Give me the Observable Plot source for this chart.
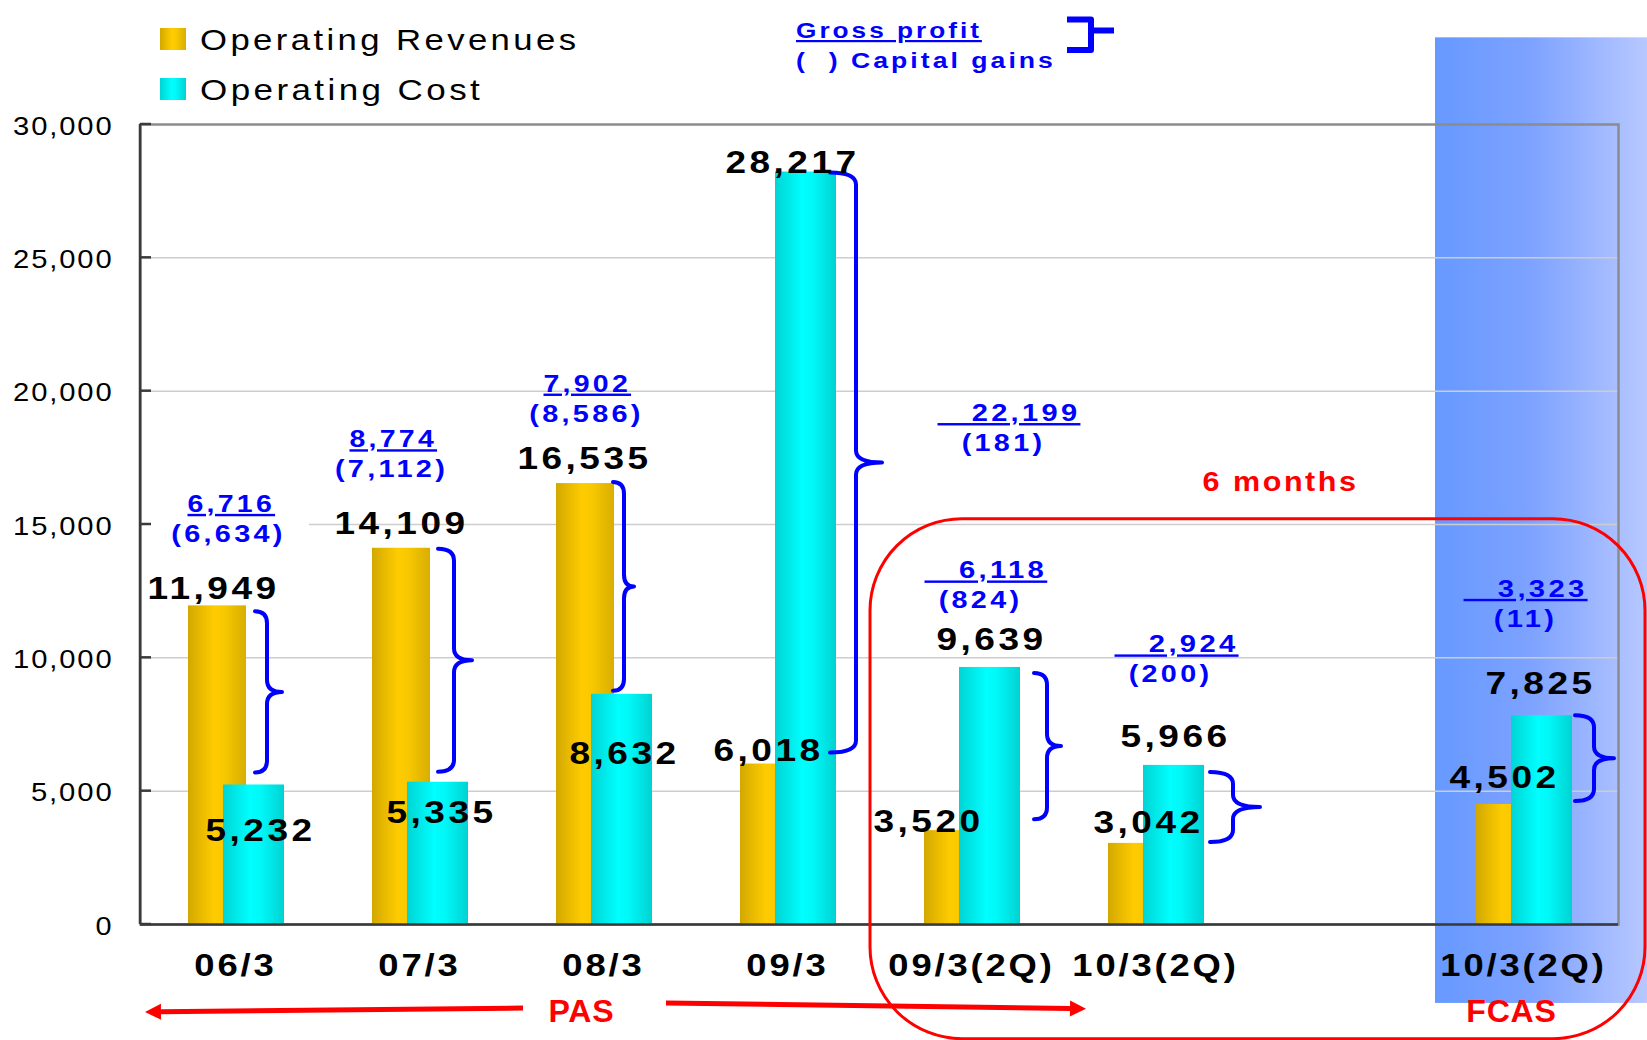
<!DOCTYPE html>
<html>
<head>
<meta charset="utf-8">
<script src="https://cdn.jsdelivr.net/npm/d3@7"></script>
<script src="https://cdn.jsdelivr.net/npm/@observablehq/plot@0.6"></script>
<style>
html, body { margin: 0; padding: 0; background: #fff; }
#chart svg { display: block; }
g[aria-description="gross profit"] text { text-decoration: underline; }
</style>
</head>
<body>
<div id="chart"></div>
<script>
// ---------- data ----------
const categories   = ["06/3", "07/3", "08/3", "09/3", "09/3(2Q)", "10/3(2Q)", "gap", "10/3(2Q)FCAS"];
const tickLabels   = ["06/3", "07/3", "08/3", "09/3", "09/3(2Q)", "10/3(2Q)", "", "10/3(2Q)"];
const revenues     = [11949, 14109, 16535, 6018, 3520, 3042, null, 4502];
const costs        = [5232, 5335, 8632, 28217, 9639, 5966, null, 7825];
const grossProfit  = [6716, 8774, 7902, 22199, 6118, 2924, null, 3323];
const capitalGains = [6634, 7112, 8586, 181, 824, 200, null, 11];
const yTicks       = [0, 5000, 10000, 15000, 20000, 25000, 30000];
const seriesNames  = ["Operating Revenues", "Operating Cost"];
const keyLabels    = ["Gross profit", "(\u00a0\u00a0) Capital gains"];
const noteLabels   = ["6 months", "PAS", "FCAS"];

// ---------- layout (pixel offsets of annotations) ----------
const revLabelShift  = [[-22,-7],[-18,-14],[-19,-15],[-19,-3],[-43,1],[-7,-10],null,[-19,-16]];
const costLabelShift = [[25,56],[22,41],[21,70],[5,1],[20,-17],[20,-18],null,[17,-22]];
const gpShift        = [[-48,-94],[-70,-101],[-60,-92],[150,249],[-47,-89],[-41,-113],null,[-60,-119]];
const gpLead         = [0,0,0,3,3,3,null,3];
const cgShiftX       = [-7,-28,-17,216,9,15,null,2];
const braceShape     = [[20,32,47,6,-12],[19,35,53,1,-10],[10,21,31,-1,-3],[43,69,95,1,-11],[63,76,90,6,-11],[55,78,105,7,-1],null,[52,71,91,0,-3]];

const fmt = d3.format(",");
const rows = categories.map((cat, i) => ({cat, i, rev: revenues[i], cost: costs[i], gp: grossProfit[i], cg: capitalGains[i]}))
  .filter(d => d.rev != null);

const FONT = "'Liberation Sans', Arial, Helvetica, sans-serif";
const BLUE = "#0000FF", RED = "#FF0000";

function decor(draw) {
  return (index, scales, values, dims) => {
    const X = scales.x, Y = scales.y;
    const bw = (X && typeof X.bandwidth === "function") ? X.bandwidth()
      : (dims.width - dims.marginLeft - dims.marginRight) / categories.length;
    const G = {dims, bw, Y, band: c => X(c), cx: c => X(c) + bw / 2};
    const g = d3.create("svg:g");
    draw(g, G);
    return g.node();
  };
}

function bracePath(x0, xs, xt, y1, y2, r) {
  const ym = (y1 + y2) / 2;
  r = Math.min(r, (y2 - y1) / 4);
  return `M${x0},${y1} Q${xs},${y1} ${xs},${y1 + r} L${xs},${ym - r} Q${xs},${ym} ${xt},${ym}` +
         ` Q${xs},${ym} ${xs},${ym + r} L${xs},${y2 - r} Q${xs},${y2} ${x0},${y2}`;
}

function arrow(g, xa, ya, xb, yb) {
  const ang = Math.atan2(yb - ya, xb - xa), L = 16, Wd = 8;
  const bx = xb - L * Math.cos(ang), by = yb - L * Math.sin(ang);
  g.append("line").attr("x1", xa).attr("y1", ya).attr("x2", bx).attr("y2", by)
    .attr("stroke", RED).attr("stroke-width", 5);
  const px = -Math.sin(ang) * Wd, py = Math.cos(ang) * Wd;
  g.append("path").attr("d", `M${xb},${yb} L${bx + px},${by + py} L${bx - px},${by - py} Z`).attr("fill", RED);
}

const defsMark = decor((g) => {
  const defs = g.append("defs");
  const lg = (id, stops) => {
    const el = defs.append("linearGradient").attr("id", id).attr("x1", 0).attr("x2", 1).attr("y1", 0).attr("y2", 0);
    stops.forEach(([o, c]) => el.append("stop").attr("offset", o).attr("stop-color", c));
  };
  lg("gradGold", [[0, "#D2A800"], [0.45, "#FFCC00"], [0.62, "#F8C800"], [1, "#D8AE00"]]);
  lg("gradCyan", [[0, "#00D4D4"], [0.45, "#00FFFF"], [0.62, "#00F8F8"], [1, "#00D2D2"]]);
  lg("gradPanel", [[0, "#6699FF"], [0.45, "#7DA2FF"], [1, "#B8C8FF"]]);
});

const panelMark = decor((g, G) => {
  const x0 = G.band("10/3(2Q)FCAS") + 4;
  const y0 = G.Y(33250), y1 = G.Y(-2960);
  g.append("rect").attr("x", x0).attr("y", y0).attr("width", G.dims.width - x0).attr("height", y1 - y0)
    .attr("fill", "url(#gradPanel)");
});

// white text box behind the first annotation (it hides a piece of the 15,000 grid line)
const labelBoxMark = decor((g, G) => {
  const d = rows[0];
  const yb = G.Y(Math.max(d.rev, d.cost)) + gpShift[0][1];
  g.append("rect").attr("x", G.band(d.cat) + 2).attr("y", yb + 4)
    .attr("width", G.cx(d.cat) + 74 - G.band(d.cat) - 2).attr("height", 30).attr("fill", "#fff");
});

const axisLineMark = decor((g, G) => {
  const ml = G.dims.marginLeft;
  g.append("line").attr("x1", ml).attr("x2", ml).attr("y1", G.Y(30000)).attr("y2", G.Y(0))
    .attr("stroke", "#3a3a3a").attr("stroke-width", 2.5);
  yTicks.forEach(t => g.append("line").attr("x1", ml).attr("x2", ml + 11).attr("y1", G.Y(t)).attr("y2", G.Y(t))
    .attr("stroke", "#3a3a3a").attr("stroke-width", 2.5));
});

const braceMark = decor((g, G) => {
  rows.forEach(d => {
    const s = braceShape[d.i], c = G.cx(d.cat);
    const hi = Math.max(d.rev, d.cost), lo = Math.min(d.rev, d.cost);
    const y1 = G.Y(hi) + s[3], y2 = G.Y(lo) + s[4];
    g.append("path").attr("d", bracePath(c + s[0], c + s[1], c + s[2], y1, y2, 12))
      .attr("fill", "none").attr("stroke", BLUE).attr("stroke-width", 4)
      .attr("stroke-linecap", "round").attr("stroke-linejoin", "round");
  });
});

const legendMark = decor((g, G) => {
  const ml = G.dims.marginLeft;
  seriesNames.forEach((name, k) => {
    const top = [28, 78][k];
    g.append("rect").attr("x", ml + 20).attr("y", top).attr("width", 26).attr("height", 22)
      .attr("fill", k ? "url(#gradCyan)" : "url(#gradGold)");
    g.append("text").attr("class", "legend-text").attr("x", ml + 60).attr("y", top + 22).attr("font-size", 29)
      .attr("text-anchor", "start").attr("fill", "#000").text(name);
  });
  const kx = G.cx("09/3") + 9;
  g.append("text").attr("class", "key-text").attr("x", kx).attr("y", 38).attr("font-size", 22).attr("font-weight", "bold")
    .attr("text-anchor", "start").attr("fill", BLUE)
    .style("text-decoration", "underline").text(keyLabels[0]);
  g.append("text").attr("class", "key-text").attr("x", kx).attr("y", 68).attr("font-size", 22).attr("font-weight", "bold")
    .attr("text-anchor", "start").attr("fill", BLUE).text(keyLabels[1]);
  const bx = kx + 271;
  g.append("path").attr("d", `M${bx},19.5 H${bx + 24} V50 H${bx} M${bx + 24},30.5 H${bx + 47}`)
    .attr("fill", "none").attr("stroke", BLUE).attr("stroke-width", 6).attr("stroke-linejoin", "round");
});

const overlayMark = decor((g, G) => {
  const x0 = G.band("09/3(2Q)") - 9, x1 = G.dims.width - 2;
  const y0 = G.Y(15200), y1 = G.Y(-4300);
  g.append("rect").attr("x", x0).attr("y", y0).attr("width", x1 - x0).attr("height", y1 - y0)
    .attr("rx", 92).attr("ry", 92).attr("fill", "none").attr("stroke", RED).attr("stroke-width", 3);
  const ml = G.dims.marginLeft;
  arrow(g, G.cx("08/3") - 80, G.Y(-3150), ml + 5, G.Y(-3300));
  arrow(g, G.cx("08/3") + 63, G.Y(-2960), G.band("10/3(2Q)") + 23, G.Y(-3180));
});

const valueLabels = rows.flatMap(d => [
  Plot.text([d], {x: "cat", y: "rev", text: r => fmt(r.rev), dx: revLabelShift[d.i][0], dy: revLabelShift[d.i][1],
    lineAnchor: "bottom", fontSize: 32, fontWeight: "bold", fill: "#000", ariaDescription: "value label"}),
  Plot.text([d], {x: "cat", y: "cost", text: r => fmt(r.cost), dx: costLabelShift[d.i][0], dy: costLabelShift[d.i][1],
    lineAnchor: "bottom", fontSize: 32, fontWeight: "bold", fill: "#000", ariaDescription: "value label"})
]);

const profitLabels = rows.flatMap(d => [
  Plot.text([d], {x: "cat", y: r => Math.max(r.rev, r.cost), text: r => "\u00a0".repeat(gpLead[r.i]) + fmt(r.gp),
    dx: gpShift[d.i][0], dy: gpShift[d.i][1], textAnchor: "start", lineAnchor: "bottom",
    fontSize: 24, fontWeight: "bold", fill: BLUE, ariaDescription: "gross profit"}),
  Plot.text([d], {x: "cat", y: r => Math.max(r.rev, r.cost), text: r => "(" + fmt(r.cg) + ")",
    dx: cgShiftX[d.i], dy: gpShift[d.i][1] + 30, lineAnchor: "bottom",
    fontSize: 24, fontWeight: "bold", fill: BLUE, ariaDescription: "capital gains"})
]);

const noteMarks = [
  Plot.text([noteLabels[0]], {x: () => "gap", y: () => 16270, dx: -59, lineAnchor: "bottom", fontSize: 27, fontWeight: "bold", fill: RED, ariaDescription: "note"}),
  Plot.text([noteLabels[1]], {x: () => "08/3", y: () => -3640, dx: -22, lineAnchor: "bottom", fontSize: 31, fontWeight: "bold", fill: RED, ariaDescription: "note-tight"}),
  Plot.text([noteLabels[2]], {x: () => "10/3(2Q)FCAS", y: () => -3640, dx: -12, lineAnchor: "bottom", fontSize: 31, fontWeight: "bold", fill: RED, ariaDescription: "note-tight"})
];

const chart = Plot.plot({
  width: 1647,
  height: 1040,
  marginLeft: 140,
  marginRight: 29,
  marginTop: 124,
  marginBottom: 116,
  style: {fontFamily: FONT, background: "#fff", overflow: "visible", color: "#000"},
  x: {domain: categories, padding: 0},
  y: {domain: [0, 30000]},
  marks: [
    defsMark,
    panelMark,
    Plot.gridY(yTicks.slice(1, -1), {stroke: "#cdcdcd", strokeOpacity: 1, strokeWidth: 1.5}),
    labelBoxMark,
    Plot.frame({stroke: "#8c8c8c", strokeWidth: 2.5}),
    Plot.barY(rows, {x: "cat", y: "rev", fill: "url(#gradGold)", insetLeft: 45, insetRight: 81}),
    Plot.barY(rows, {x: "cat", y: "cost", fill: "url(#gradCyan)", insetLeft: 80, insetRight: 43}),
    Plot.ruleY([0], {stroke: "#3a3a3a", strokeWidth: 2.5}),
    axisLineMark,
    Plot.axisY(yTicks, {tickSize: 0, tickPadding: 27, dy: 2, tickFormat: d3.format(","), fontSize: 25, label: null, fill: "#000"}),
    Plot.axisX({tickSize: 0, tickPadding: 29, tickFormat: d => tickLabels[categories.indexOf(d)], fontSize: 32, fontWeight: "bold", label: null, fill: "#000"}),
    braceMark,
    ...valueLabels,
    ...profitLabels,
    ...noteMarks,
    legendMark,
    overlayMark
  ]
});
document.getElementById("chart").appendChild(chart);

// Widen glyphs (the original typeface is horizontally stretched): part of the extra
// width comes from letter-spacing, the rest from stretching the glyphs.
function stretch(selector, ls, k) {
  chart.querySelectorAll(selector).forEach(t => {
    if (!t.textContent) return;
    t.style.letterSpacing = ls + "px";
    const full = t.getComputedTextLength();
    t.style.letterSpacing = (ls * k) + "px";
    if (full > 0) {
      t.setAttribute("textLength", full);
      t.setAttribute("lengthAdjust", "spacingAndGlyphs");
    }
  });
}
stretch('g[aria-description="value label"] text', 6, 0.5);
stretch('g[aria-description="gross profit"] text', 5.5, 0.5);
stretch('g[aria-description="capital gains"] text', 5.5, 0.5);
stretch('g[aria-label="y-axis tick label"] text', 4, 0.4);
stretch('g[aria-label="x-axis tick label"] text', 5, 0.5);
stretch('g[aria-description="note"] text', 4.5, 0.5);
stretch('g[aria-description="note-tight"] text', 1.5, 0.5);
stretch('text.legend-text', 6.3, 0.45);
stretch('text.key-text', 5, 0.5);
</script>
</body>
</html>
